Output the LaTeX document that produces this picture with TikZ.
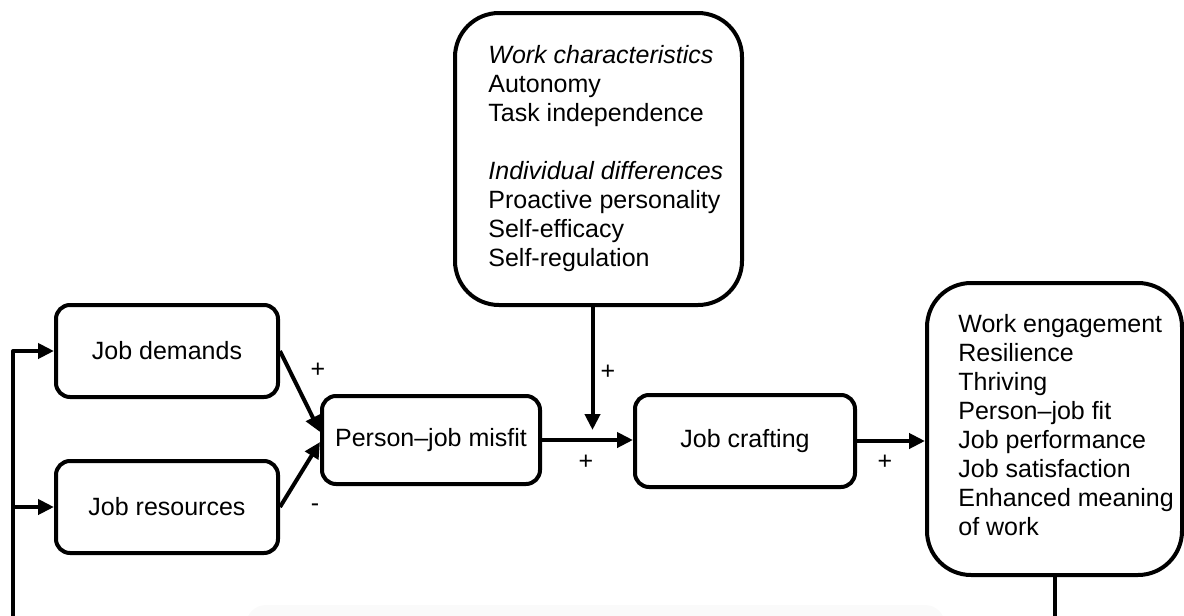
\documentclass[tikz,border=0pt]{standalone}
\usepackage{fontspec}
\setmainfont{Liberation Sans}
\usetikzlibrary{arrows.meta}
\tikzset{
  box/.style={draw,line width=2pt,rounded corners=7pt,inner sep=0pt,minimum width=111pt,minimum height=46pt},
  bigbox/.style={box,rounded corners=22pt},
  list/.style={align=left,inner sep=0pt,anchor=west},
  sign/.style={inner sep=0pt},
  link/.style={->,line width=2pt}
}
\begin{document}
\begin{tikzpicture}[x=0.5pt,y=-0.5pt,>={Triangle[length=8pt,width=7.5pt]},line join=round,font=\fontsize{12.5}{14.5}\selectfont]
		\useasboundingbox (0,0) rectangle (1184,616);
		\clip (0,0) rectangle (1184,616);
		\fill[black!2,rounded corners=10pt] (246,605) rectangle (945,640);
		\node[box] (demands) at (167,351) {Job demands};
		\node[box] (resources) at (167,507) {Job resources};
		\node[box,minimum width=109pt,minimum height=44pt] (misfit) at (431,440) {Person--job misfit};
		\node[box,minimum width=110pt] (crafting) at (745,441) {Job crafting};
		\node[bigbox,minimum width=143.5pt,minimum height=146pt] (factors) at (598.5,159) {};
		\node[list] (factorlist) at ([xshift=17.5pt]factors.west) {\textit{Work characteristics}\\Autonomy\\Task independence\\[14.5pt]\textit{Individual differences}\\Proactive personality\\Self-efficacy\\Self-regulation};
		\node[bigbox,minimum width=127.5pt,minimum height=146pt] (outcome) at (1054.5,429) {};
		\node[list] (outcomelist) at ([xshift=16.5pt,yshift=2pt]outcome.west) {Work engagement\\Resilience\\Thriving\\Person--job fit\\Job performance\\Job satisfaction\\Enhanced meaning\\of work};
		\node[sign] (plusdem) at (318,370) {+};
		\node[sign] (minusres) at (315,508) {-};
		\node[sign] (plusmod) at (608,372) {+};
		\node[sign] (plusmis) at (586,462) {+};
		\node[sign] (pluscraft) at (885,462) {+};
		\coordinate (loopbottom) at (13,680);
		\coordinate (looptop) at (13,351);
		\draw[link] (demands.east) -- ([yshift=4pt]misfit.west);
		\draw[link] (resources.east) -- ([yshift=-1pt]misfit.west);
		\draw[link] (misfit.east) -- (misfit.east -| crafting.west);
		\draw[link] ([xshift=-3pt]factors.south) -- ([xshift=-3pt,yshift=5pt]factors.south |- misfit.east);
		\draw[link] (crafting.east) -- (crafting.east -| outcome.west);
		\draw[link] (outcome.south) |- (loopbottom) -- (looptop) -- (demands.west);
		\draw[link] (looptop |- resources.west) -- (resources.west);
\end{tikzpicture}
\end{document}
